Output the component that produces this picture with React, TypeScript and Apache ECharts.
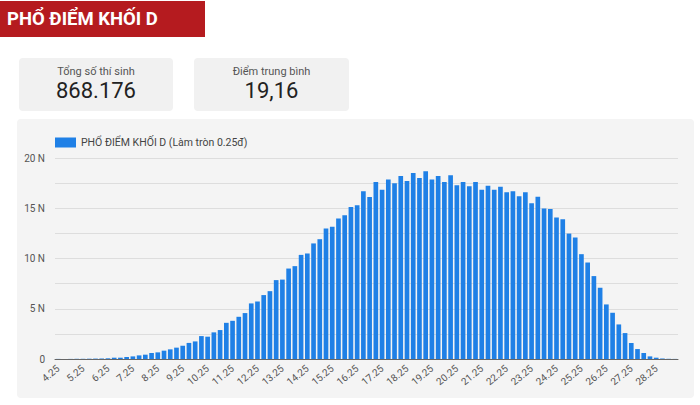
import React, { useEffect, useRef } from "react";
import * as echarts from "echarts";

const TITLE = "PHỔ ĐIỂM KHỐI D";
const SERIES_NAME = "PHỔ ĐIỂM KHỐI D (Làm tròn 0.25đ)";
const statLabels = ["Tổng số thí sinh", "Điểm trung bình"];
const statValues = ["868.176", "19,16"];

const categories = [
  "4.25", "4.5", "4.75", "5", "5.25", "5.5", "5.75", "6", "6.25", "6.5",
  "6.75", "7", "7.25", "7.5", "7.75", "8", "8.25", "8.5", "8.75", "9",
  "9.25", "9.5", "9.75", "10", "10.25", "10.5", "10.75", "11", "11.25", "11.5",
  "11.75", "12", "12.25", "12.5", "12.75", "13", "13.25", "13.5", "13.75", "14",
  "14.25", "14.5", "14.75", "15", "15.25", "15.5", "15.75", "16", "16.25", "16.5",
  "16.75", "17", "17.25", "17.5", "17.75", "18", "18.25", "18.5", "18.75", "19",
  "19.25", "19.5", "19.75", "20", "20.25", "20.5", "20.75", "21", "21.25", "21.5",
  "21.75", "22", "22.25", "22.5", "22.75", "23", "23.25", "23.5", "23.75", "24",
  "24.25", "24.5", "24.75", "25", "25.25", "25.5", "25.75", "26", "26.25", "26.5",
  "26.75", "27", "27.25", "27.5", "27.75", "28", "28.25", "28.5", "28.75", "29",
];

// number of candidates, in thousands (N = nghìn)
const counts = [
  0.01, 0.01, 0.01, 0.02, 0.02, 0.03, 0.04, 0.05, 0.07,
  0.13, 0.13, 0.2, 0.26, 0.36, 0.43, 0.6, 0.66, 0.83, 0.96, 1.13, 1.32, 1.6, 1.75, 2.28, 2.22, 2.65, 2.88, 3.6, 3.8, 4.2, 4.57,
  5.53, 5.73, 6.36, 6.75, 7.85, 7.9, 9.0, 9.24, 10.36, 10.5, 11.5, 11.92, 12.98, 13.15, 13.97, 14.3, 15.13, 15.3,
  16.69, 16.13, 17.62, 16.85, 17.85, 17.5, 18.2, 17.7, 18.5, 18.0, 18.67, 17.85, 18.2, 17.62, 18.28, 17.28, 17.62, 17.2, 17.62, 16.85, 17.25, 16.85, 17.15, 16.6,
  16.69, 16.2, 16.6, 15.5, 16.15, 14.97, 14.93, 14.07, 13.9, 12.48, 12.09, 10.43, 9.6, 8.25, 7.09, 5.43, 4.6, 3.44, 2.58, 1.59, 0.99, 0.6, 0.26, 0.13, 0.05, 0.02, 0.01,
];

const yMin = 0;
const yMax = 20;
const yStep = 2.5;
const yLabelStep = 5;

const FONT = "Roboto, 'Noto Sans', sans-serif";
const BLUE = "#1f80e6";

export default function App() {
  const ref = useRef<HTMLDivElement>(null);

  useEffect(() => {
    if (!ref.current) return;
    const chart = echarts.init(ref.current, undefined, { renderer: "svg" });
    const cards = [
      { x: 19, w: 154 },
      { x: 194, w: 155 },
    ];
    const graphic: any[] = [
      { type: "rect", z: -100, shape: { x: 0, y: 1, width: 205, height: 36 }, style: { fill: "#b51b1f" } },
      {
        type: "text", z: -99,
        style: { text: TITLE, x: 7, y: 19, fill: "#ffffff", font: `bold 18.5px ${FONT}`, textAlign: "left", textVerticalAlign: "middle" },
      },
      { type: "rect", z: -100, shape: { x: 17, y: 119, width: 677, height: 279, r: 4 }, style: { fill: "#f4f4f4" } },
    ];
    cards.forEach((c, i) => {
      graphic.push({ type: "rect", z: -100, shape: { x: c.x, y: 58, width: c.w, height: 53, r: 4 }, style: { fill: "#f1f1f1" } });
      graphic.push({
        type: "text", z: -99,
        style: { text: statLabels[i], x: c.x + c.w / 2, y: 71, fill: "#555555", font: `11px ${FONT}`, textAlign: "center", textVerticalAlign: "middle" },
      });
      graphic.push({
        type: "text", z: -99,
        style: { text: statValues[i], x: c.x + c.w / 2, y: 90, fill: "#222222", font: `22px ${FONT}`, textAlign: "center", textVerticalAlign: "middle" },
      });
    });

    chart.setOption({
      animation: false,
      textStyle: { fontFamily: FONT },
      graphic,
      legend: {
        data: [SERIES_NAME],
        left: 55,
        top: 137,
        padding: 0,
        itemWidth: 21,
        itemHeight: 10,
        itemGap: 10,
        icon: "rect",
        textStyle: { fontSize: 10.5, color: "#444444", fontFamily: FONT },
      },
      grid: { left: 55, right: 22, top: 158, bottom: 46 },
      xAxis: {
        type: "category",
        data: categories,
        boundaryGap: true,
        axisTick: { show: false },
        axisLine: { lineStyle: { color: "#666666", width: 1 } },
        axisLabel: { interval: 3, rotate: 40, fontSize: 10, color: "#555555", margin: 8, fontFamily: FONT },
      },
      yAxis: {
        type: "value",
        min: yMin,
        max: yMax,
        interval: yStep,
        axisLine: { show: false },
        axisTick: { show: false },
        splitLine: { lineStyle: { color: "#dddddd", width: 1 } },
        axisLabel: {
          fontSize: 10,
          color: "#555555",
          margin: 10,
          fontFamily: FONT,
          formatter: (v: number) => (v % yLabelStep === 0 ? (v === 0 ? "0" : `${v} N`) : ""),
        },
      },
      series: [
        {
          name: SERIES_NAME,
          type: "bar",
          data: counts,
          barCategoryGap: "25%",
          itemStyle: { color: BLUE },
        },
      ],
    });
    return () => chart.dispose();
  }, []);

  return (
    <div
      ref={ref}
      style={{ position: "absolute", left: 0, top: 0, width: 700, height: 405, background: "#ffffff" }}
    />
  );
}
